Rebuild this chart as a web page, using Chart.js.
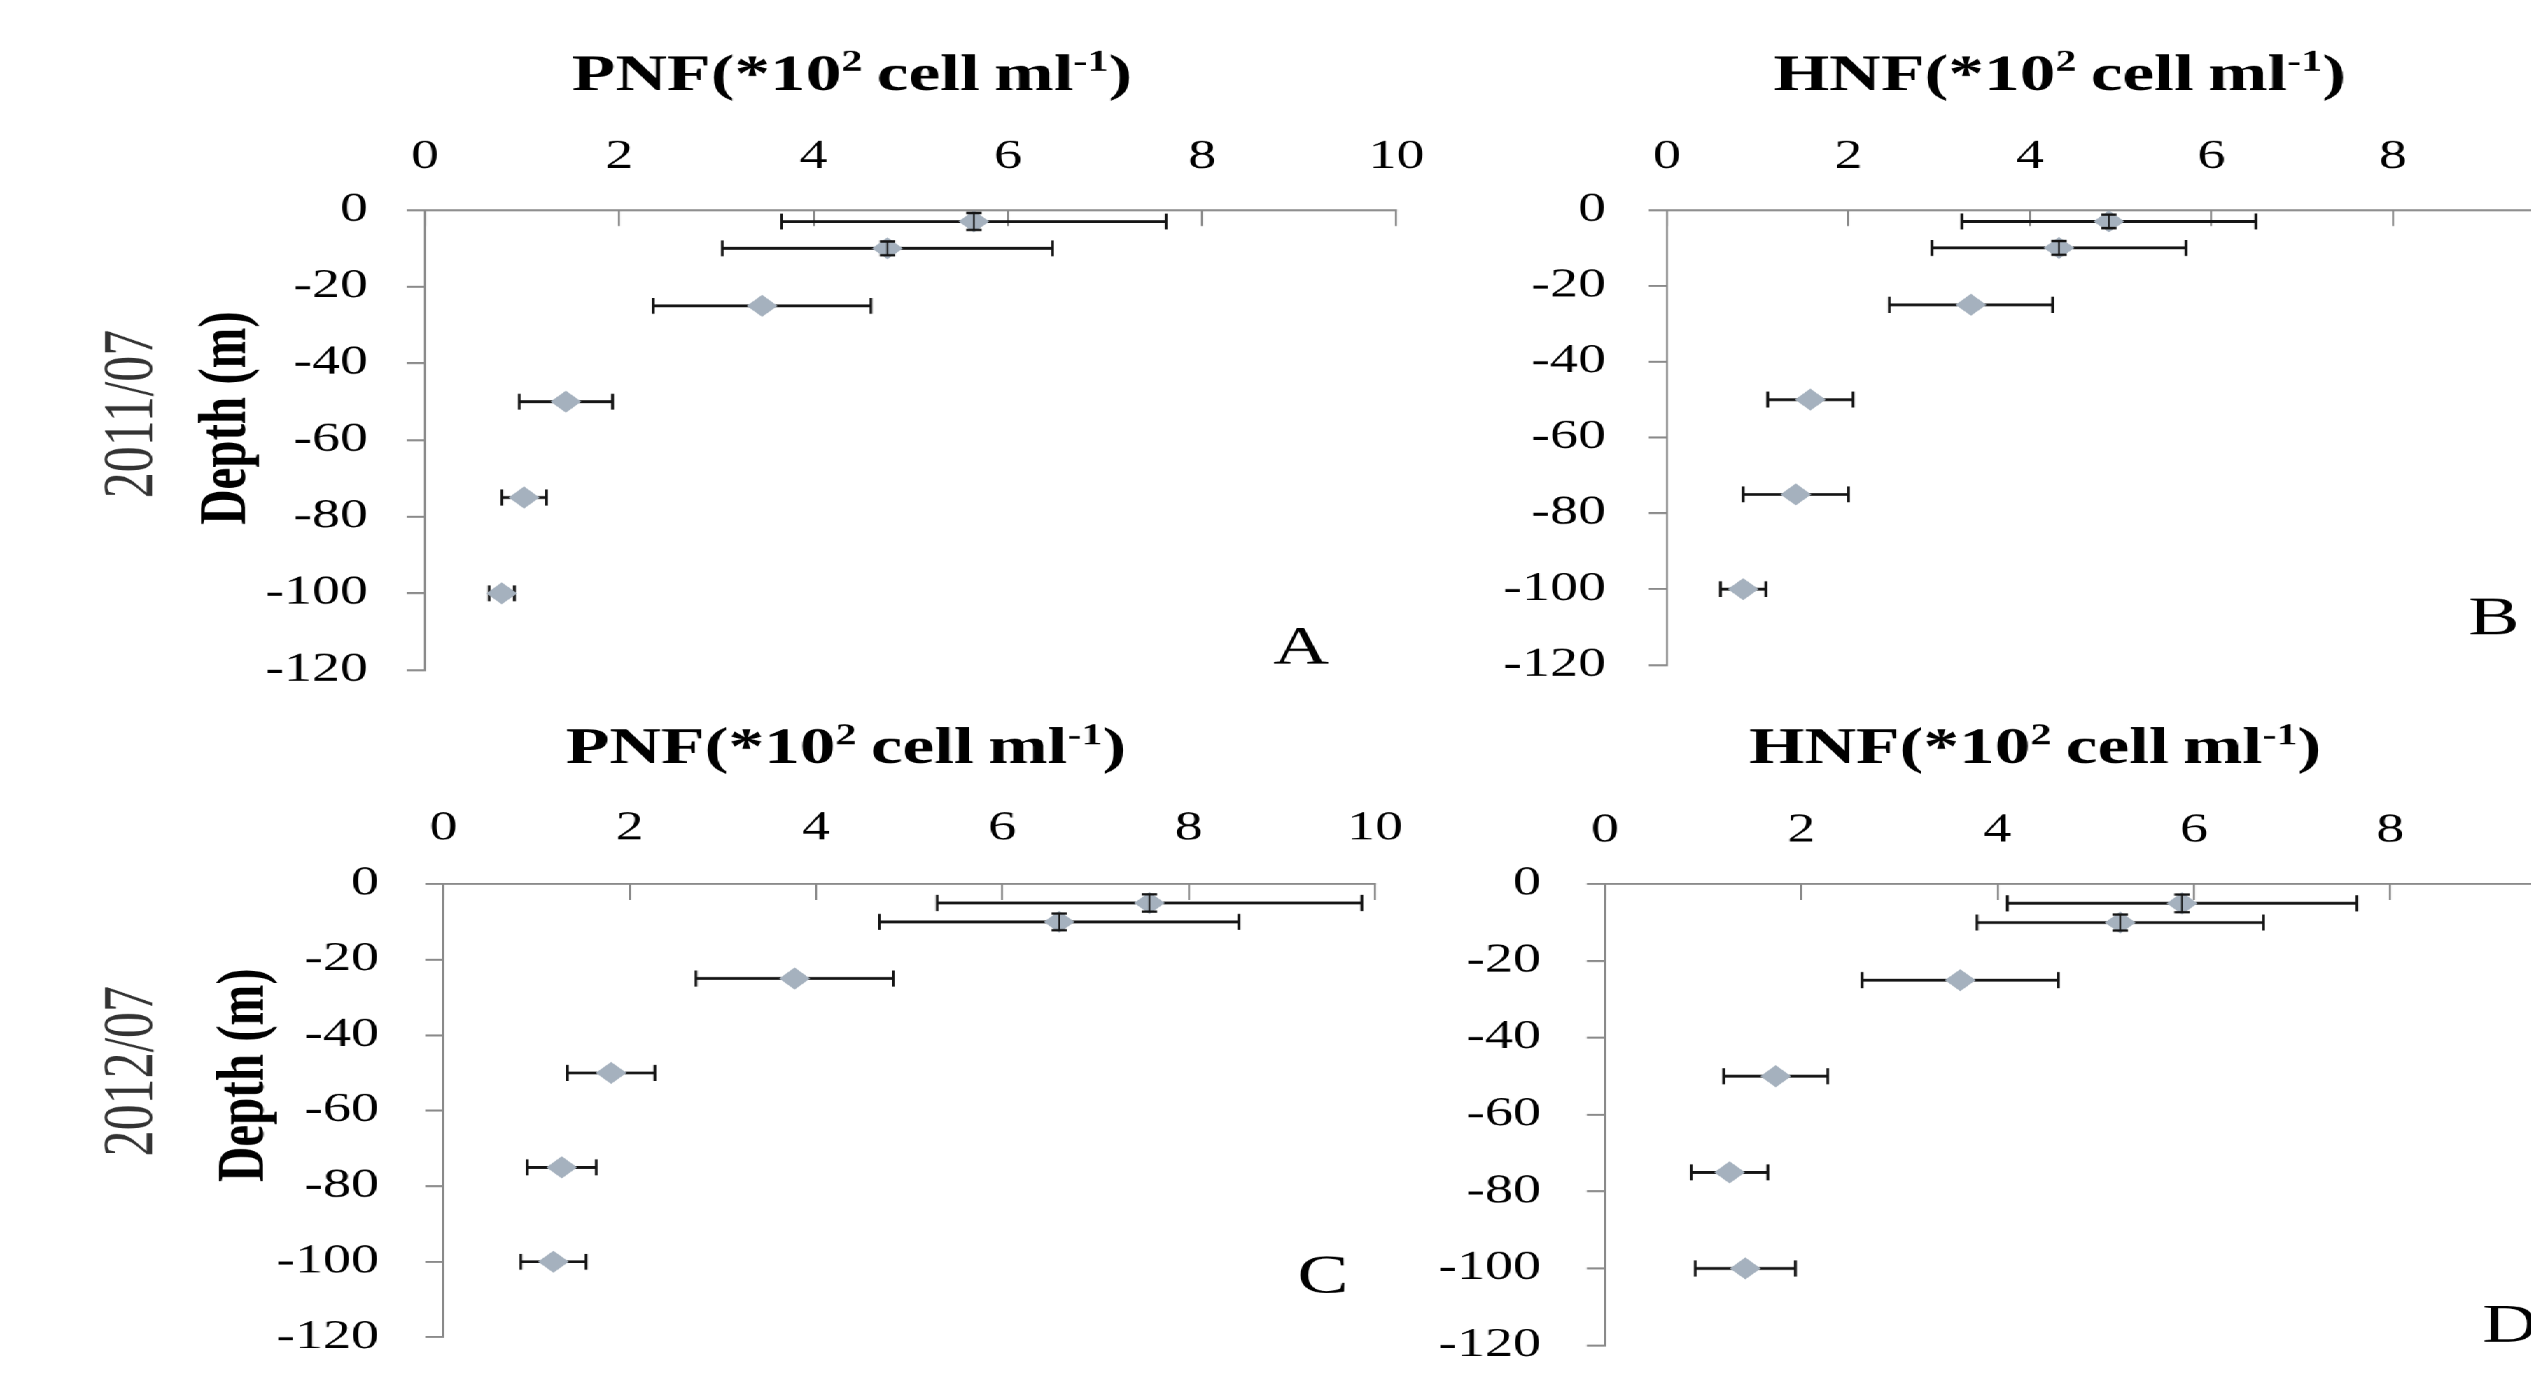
<!DOCTYPE html>
<html>
<head>
<meta charset="utf-8">
<title>PNF / HNF depth profiles 2011-2012</title>
<script src="https://cdn.jsdelivr.net/npm/chart.js@4.4.1/dist/chart.umd.min.js"></script>
<style>
  html, body { margin: 0; padding: 0; background: #fff; overflow: hidden; }
  /* the original figure is stretched horizontally, so the whole stage is too */
  #stage { position: absolute; left: 0; top: 0; width: 1960px; height: 1376px;
           transform: scaleX(1.4); transform-origin: 0 0; }
  #stage canvas { position: absolute; }
</style>
</head>
<body>
<div id="stage">
  <canvas id="chart-a"></canvas>
  <canvas id="chart-b"></canvas>
  <canvas id="chart-c"></canvas>
  <canvas id="chart-d"></canvas>
</div>
<script>
// --- Data (cell counts in *10^2 cell/ml, depth in m) ---
const DEPTH_2011 = [-3, -10, -25, -50, -75, -100];
const DEPTH_2012 = [-5, -10, -25, -50, -75, -100];

const PNF_2011 = [5.65, 4.76, 3.47, 1.45, 1.02, 0.79];
const PNF_2011_ERR = [1.98, 1.70, 1.12, 0.48, 0.23, 0.13];
const PNF_2011_DEPTH_ERR = [2.2, 1.8, 0, 0, 0, 0];

const HNF_2011 = [4.87, 4.32, 3.35, 1.58, 1.42, 0.84];
const HNF_2011_ERR = [1.62, 1.40, 0.90, 0.47, 0.58, 0.25];
const HNF_2011_DEPTH_ERR = [1.8, 1.8, 0, 0, 0, 0];

const PNF_2012 = [7.58, 6.61, 3.77, 1.80, 1.27, 1.18];
const PNF_2012_ERR = [2.28, 1.93, 1.06, 0.47, 0.37, 0.35];
const PNF_2012_DEPTH_ERR = [2.3, 2.2, 0, 0, 0, 0];

const HNF_2012 = [5.88, 5.25, 3.62, 1.74, 1.27, 1.43];
const HNF_2012_ERR = [1.78, 1.46, 1.00, 0.53, 0.39, 0.51];
const HNF_2012_DEPTH_ERR = [2.3, 2.1, 0, 0, 0, 0];

const COUNT_TICKS = [0, 2, 4, 6, 8, 10];
const DEPTH_TICKS = [0, -20, -40, -60, -80, -100, -120];

// thin spaces keep the title as tight as in the original
const TITLE_PNF = [{ t: 'PNF(*10' }, { t: '2', sup: true }, { t: '\u2009cell\u2009ml' }, { t: '-1', sup: true }, { t: ')' }];
const TITLE_HNF = [{ t: 'HNF(*10' }, { t: '2', sup: true }, { t: '\u2009cell\u2009ml' }, { t: '-1', sup: true }, { t: ')' }];

// --- Style ---
const FONT = "'Liberation Serif', 'Times New Roman', serif";
const AXIS_GRAY = '#8a8a8a';
const MARKER_COLOR = '#a5b1be';
const ERR_COLOR = '#151515';
const X_TICK_LEN = 16;   // ticks point down into the plot
const Y_TICK_LEN = 13;
const TICK_FONT_SIZE = 40;

// Error bars: horizontal ones under the markers, vertical ones on top
const errorBarPlugin = {
  id: 'errorBars',
  beforeDatasetsDraw(chart) {
    const { ctx, scales: { x, y } } = chart;
    chart.data.datasets.forEach(ds => {
      ctx.save();
      ctx.strokeStyle = ERR_COLOR;
      ds.data.forEach((p, i) => {
        const e = ds.xErr[i];
        if (!e) return;
        const py = y.getPixelForValue(p.y);
        const x0 = x.getPixelForValue(p.x - e);
        const x1 = x.getPixelForValue(p.x + e);
        ctx.lineWidth = 2.8;
        ctx.beginPath();
        ctx.moveTo(x0, py); ctx.lineTo(x1, py);
        ctx.stroke();
        ctx.lineWidth = 2;
        ctx.beginPath();
        ctx.moveTo(x0, py - 8); ctx.lineTo(x0, py + 8);
        ctx.moveTo(x1, py - 8); ctx.lineTo(x1, py + 8);
        ctx.stroke();
      });
      ctx.restore();
    });
  },
  afterDatasetsDraw(chart) {
    const { ctx, scales: { x, y } } = chart;
    chart.data.datasets.forEach(ds => {
      ctx.save();
      ctx.strokeStyle = ERR_COLOR;
      ds.data.forEach((p, i) => {
        const e = ds.yErr[i];
        if (!e) return;
        const px = x.getPixelForValue(p.x);
        const y0 = y.getPixelForValue(p.y - e);
        const y1 = y.getPixelForValue(p.y + e);
        ctx.lineWidth = 1.2;
        ctx.beginPath();
        ctx.moveTo(px, y0); ctx.lineTo(px, y1);
        ctx.stroke();
        ctx.lineWidth = 2.4;
        ctx.beginPath();
        ctx.moveTo(px - 5.5, y0); ctx.lineTo(px + 5.5, y0);
        ctx.moveTo(px - 5.5, y1); ctx.lineTo(px + 5.5, y1);
        ctx.stroke();
      });
      ctx.restore();
    });
  }
};

// Panel titles (with superscripts), side labels and panel letters
function drawRich(ctx, parts, cx, cy, size) {
  const main = `bold ${size}px ${FONT}`;
  const small = `bold ${Math.round(size * 0.58)}px ${FONT}`;
  const widths = parts.map(p => { ctx.font = p.sup ? small : main; return ctx.measureText(p.t).width; });
  let x = cx - widths.reduce((a, b) => a + b, 0) / 2;
  ctx.textAlign = 'left';
  ctx.textBaseline = 'middle';
  parts.forEach((p, i) => {
    ctx.font = p.sup ? small : main;
    ctx.fillText(p.t, x, p.sup ? cy - size * 0.27 : cy);
    x += widths[i];
  });
}

const panelTextPlugin = {
  id: 'panelText',
  afterDraw(chart, args, opts) {
    const ctx = chart.ctx;
    (opts.items || []).forEach(item => {
      ctx.save();
      ctx.fillStyle = item.color || '#000';
      if (item.rich) {
        drawRich(ctx, item.rich, item.x, item.y, item.size);
      } else {
        ctx.font = `${item.weight || 'normal'} ${item.size}px ${FONT}`;
        ctx.textAlign = 'center';
        ctx.textBaseline = 'middle';
        ctx.translate(item.x, item.y);
        if (item.rotate) ctx.rotate(-Math.PI / 2);
        ctx.fillText(item.text, 0, 0);
      }
      ctx.restore();
    });
  }
};

// Layout in un-stretched stage coordinates (x is later multiplied by 1.4)
const PANELS = [
  {
    id: 'chart-a', left: 0, top: 0, width: 1060, height: 690,
    area: { left: 303.6, right: 997.5, top: 210, bottom: 670 },
    xLabelY: 157, yLabelRight: 262.9,
    values: PNF_2011, xErr: PNF_2011_ERR, yErr: PNF_2011_DEPTH_ERR, depths: DEPTH_2011,
    title: { rich: TITLE_PNF, x: 608.6, y: 77 },
    letter: { text: 'A', x: 929.3, y: 649 },
    year: { text: '2011/07', x: 95, y: 414 },
    depth: { text: 'Depth (m)', x: 162, y: 418 },
  },
  {
    id: 'chart-b', left: 1040, top: 0, width: 920, height: 690,
    area: { left: 1190.7, right: 1838.9, top: 210, bottom: 665 },
    xLabelY: 157, yLabelRight: 1147.1,
    values: HNF_2011, xErr: HNF_2011_ERR, yErr: HNF_2011_DEPTH_ERR, depths: DEPTH_2011,
    title: { rich: TITLE_HNF, x: 1471.4, y: 77 },
    letter: { text: 'B', x: 1781.4, y: 620 },
  },
  {
    id: 'chart-c', left: 0, top: 690, width: 1060, height: 686,
    area: { left: 316.8, right: 982.1, top: 884, bottom: 1337 },
    xLabelY: 829, yLabelRight: 270.7,
    values: PNF_2012, xErr: PNF_2012_ERR, yErr: PNF_2012_DEPTH_ERR, depths: DEPTH_2012,
    title: { rich: TITLE_PNF, x: 604.3, y: 750 },
    letter: { text: 'C', x: 945, y: 1278 },
    year: { text: '2012/07', x: 95, y: 1071 },
    depth: { text: 'Depth (m)', x: 175, y: 1075 },
  },
  {
    id: 'chart-d', left: 1000, top: 690, width: 960, height: 686,
    area: { left: 1146.4, right: 1847.5, top: 884, bottom: 1345 },
    xLabelY: 831, yLabelRight: 1100.7,
    values: HNF_2012, xErr: HNF_2012_ERR, yErr: HNF_2012_DEPTH_ERR, depths: DEPTH_2012,
    title: { rich: TITLE_HNF, x: 1453.6, y: 750 },
    letter: { text: 'D', x: 1792.9, y: 1327 },
  },
];

function makeChart(p) {
  const canvas = document.getElementById(p.id);
  canvas.width = p.width;
  canvas.height = p.height;
  Object.assign(canvas.style, {
    left: p.left + 'px', top: p.top + 'px', width: p.width + 'px', height: p.height + 'px',
  });

  const yAxisWidth = p.area.left - p.left;
  const xAxisHeight = p.area.top - p.top;
  const padRight = p.left + p.width - p.area.right;
  const padBottom = p.top + p.height - p.area.bottom;
  const lineH = TICK_FONT_SIZE * 1.2;

  const rel = o => Object.assign({}, o, { x: o.x - p.left, y: o.y - p.top });
  const items = [Object.assign(rel(p.title), { size: 51 })];
  items.push(Object.assign(rel(p.letter), { size: 55 }));
  if (p.year) items.push(Object.assign(rel(p.year), { size: 52, rotate: true, color: '#333' }));
  if (p.depth) items.push(Object.assign(rel(p.depth), { size: 49, weight: 'bold', rotate: true }));

  return new Chart(canvas, {
    type: 'scatter',
    data: {
      datasets: [{
        data: p.values.map((v, i) => ({ x: v, y: p.depths[i] })),
        xErr: p.xErr,
        yErr: p.yErr,
        pointStyle: 'rectRot',
        pointRadius: 11,
        backgroundColor: MARKER_COLOR,
        borderWidth: 0,
        showLine: false,
      }],
    },
    options: {
      responsive: false,
      animation: false,
      devicePixelRatio: 1.4,
      layout: { padding: { left: 0, top: 0, right: padRight, bottom: padBottom } },
      plugins: {
        legend: { display: false },
        tooltip: { enabled: false },
        panelText: { items },
      },
      scales: {
        x: {
          type: 'linear',
          position: 'top',
          min: COUNT_TICKS[0],
          max: COUNT_TICKS[COUNT_TICKS.length - 1],
          afterBuildTicks: s => { s.ticks = COUNT_TICKS.map(v => ({ value: v })); },
          afterFit: s => { s.height = xAxisHeight; s.paddingLeft = 0; s.paddingRight = 0; },
          grid: { drawOnChartArea: false, drawTicks: true, tickLength: -X_TICK_LEN, color: AXIS_GRAY, lineWidth: 1.5 },
          border: { display: true, color: AXIS_GRAY, width: 2 },
          ticks: {
            color: '#000',
            font: { family: FONT, size: TICK_FONT_SIZE },
            padding: xAxisHeight - X_TICK_LEN - lineH / 2 - (p.xLabelY - p.top) + 2 * X_TICK_LEN,
            maxRotation: 0,
            autoSkip: false,
          },
        },
        y: {
          type: 'linear',
          position: 'left',
          min: DEPTH_TICKS[DEPTH_TICKS.length - 1],
          max: DEPTH_TICKS[0],
          afterBuildTicks: s => { s.ticks = DEPTH_TICKS.slice().reverse().map(v => ({ value: v })); },
          afterFit: s => { s.width = yAxisWidth; s.paddingTop = 0; s.paddingBottom = 0; },
          grid: { drawOnChartArea: false, drawTicks: true, tickLength: Y_TICK_LEN, color: AXIS_GRAY, lineWidth: 2 },
          border: { display: true, color: AXIS_GRAY, width: 1.5 },
          ticks: {
            color: '#000',
            font: { family: FONT, size: TICK_FONT_SIZE },
            padding: (p.area.left - p.yLabelRight) - Y_TICK_LEN,
            autoSkip: false,
            callback: v => String(v),
          },
        },
      },
    },
    plugins: [errorBarPlugin, panelTextPlugin],
  });
}

PANELS.forEach(makeChart);
</script>
</body>
</html>
